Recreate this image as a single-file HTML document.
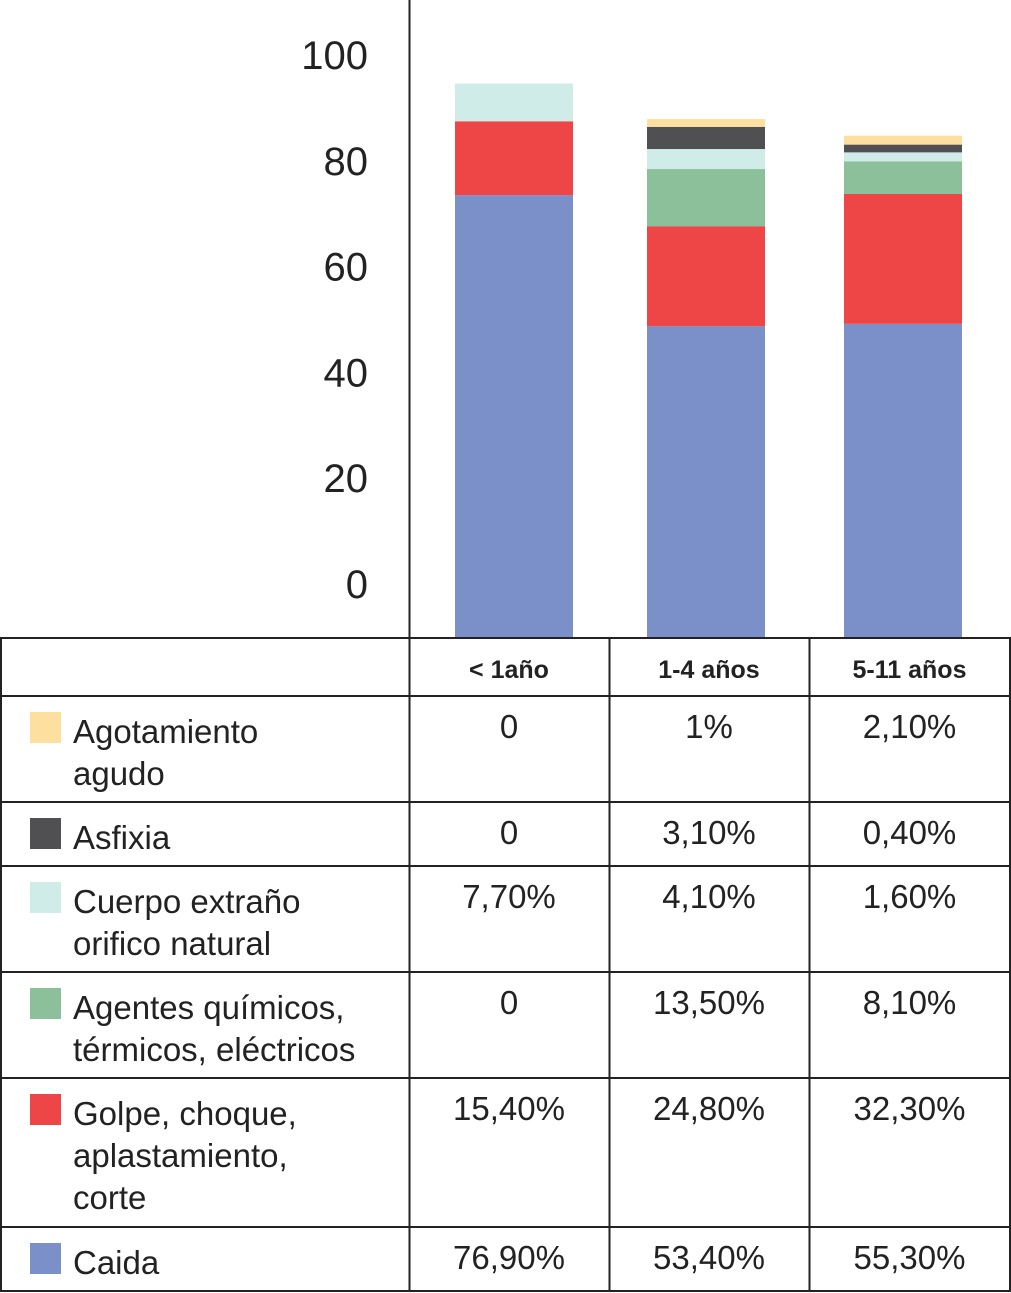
<!DOCTYPE html>
<html><head><meta charset="utf-8"><style>
body{margin:0;background:#fff;font-family:"Liberation Sans","DejaVu Sans",sans-serif;}
#wrap{position:relative;width:1011px;height:1293px;overflow:hidden;}
svg text{font-family:"Liberation Sans",sans-serif;}
</style></head><body>
<div id="wrap">
<svg id="chart" width="1011" height="1293"></svg>
</div>
<script>
const categories = ["< 1año","1-4 años","5-11 años"];
const seriesNames = ["Caida","Golpe, choque, aplastamiento, corte","Agentes químicos, térmicos, eléctricos","Cuerpo extraño orifico natural","Asfixia","Agotamiento agudo"];
const caida = [79.8, 56.2, 56.6];
const golpe = [13.3, 18.0, 23.4];
const quimicos = [0, 10.3, 5.9];
const cuerpo = [6.8, 3.6, 1.6];
const asfixia = [0, 4.0, 1.4];
const agotamiento = [0, 1.4, 1.6];
const yTicks = [0,20,40,60,80,100];
const tableLabels = [["Agotamiento","agudo"],["Asfixia"],["Cuerpo extraño","orifico natural"],["Agentes químicos,","térmicos, eléctricos"],["Golpe, choque,","aplastamiento,","corte"],["Caida"]];
const tableValues = [["0","1%","2,10%"],["0","3,10%","0,40%"],["7,70%","4,10%","1,60%"],["0","13,50%","8,10%"],["15,40%","24,80%","32,30%"],["76,90%","53,40%","55,30%"]];

const colors = ["#7b90c8","#ee4646","#8bc09a","#d0ece8","#505052","#fde0a0"];
const tableColors = ["#fde0a0","#505052","#d0ece8","#8bc09a","#ee4646","#7b90c8"];
const series = [caida,golpe,quimicos,cuerpo,asfixia,agotamiento];
const svg = document.getElementById('chart');
const NS = "http://www.w3.org/2000/svg";
function el(tag, attrs, parent){const e=document.createElementNS(NS,tag);for(const k in attrs)e.setAttribute(k,attrs[k]);(parent||svg).appendChild(e);return e;}
// scales
const barBase = 638, barPx = 5.55;
function yBar(v){return barBase - v*barPx;}
function yTickPos(v){return 584 - v*5.29;}
const barX = [455,647,844], barW = 118;
function xBar(i){return barX[i];}

// ticks
yTicks.forEach(t=>{
  const tx = el('text',{x:368,y:yTickPos(t)+14,'text-anchor':'end','font-size':40,fill:'#222'});
  
  
  tx.textContent = t;
});
const ax = el('line',{x1:409.5,y1:0,x2:409.5,y2:638,stroke:'#222','stroke-width':2});



// bars
categories.forEach((c,i)=>{
  let cum=0;
  series.forEach((s,j)=>{
    const v=s[i]; if(v<=0) return;
    const r = el('rect',{x:xBar(i),y:yBar(cum+v),width:barW,height:v*barPx,fill:colors[j]});
    
    
    cum+=v;
  });
});

// table
const cols=[0,409,609,809,1010];
const rows=[638,696,802,866,972,1078,1227,1291];
const g = el('g',{});


rows.forEach(y=>el('line',{x1:0,y1:y,x2:1011,y2:y,stroke:'#222','stroke-width':2},g));
cols.forEach((x,k)=>el('line',{x1:k===0?1:(k===4?1010:x+0.5),y1:638,x2:k===0?1:(k===4?1010:x+0.5),y2:1292,stroke:'#222','stroke-width':2},g));
categories.forEach((c,i)=>{
  const t=el('text',{x:(cols[i+1]+cols[i+2])/2,y:678,'text-anchor':'middle','font-size':25,'font-weight':'bold',fill:'#222'},g);
  
  
  t.textContent=c;
});
tableLabels.forEach((lines,r)=>{
  const top=rows[r+1];
  const sw=el('rect',{x:30,y:top+16,width:31,height:31,fill:tableColors[r]},g);
  
  
  lines.forEach((ln,k)=>{
    const t=el('text',{x:73,y:top+47+k*42,'font-size':33,fill:'#222'},g);
    
    
    t.textContent=ln;
  });
  tableValues[r].forEach((v,i)=>{
    const t=el('text',{x:(cols[i+1]+cols[i+2])/2,y:top+42,'text-anchor':'middle','font-size':33,fill:'#222'},g);
    
    
    t.textContent=v;
  });
});
</script>
</body></html>
